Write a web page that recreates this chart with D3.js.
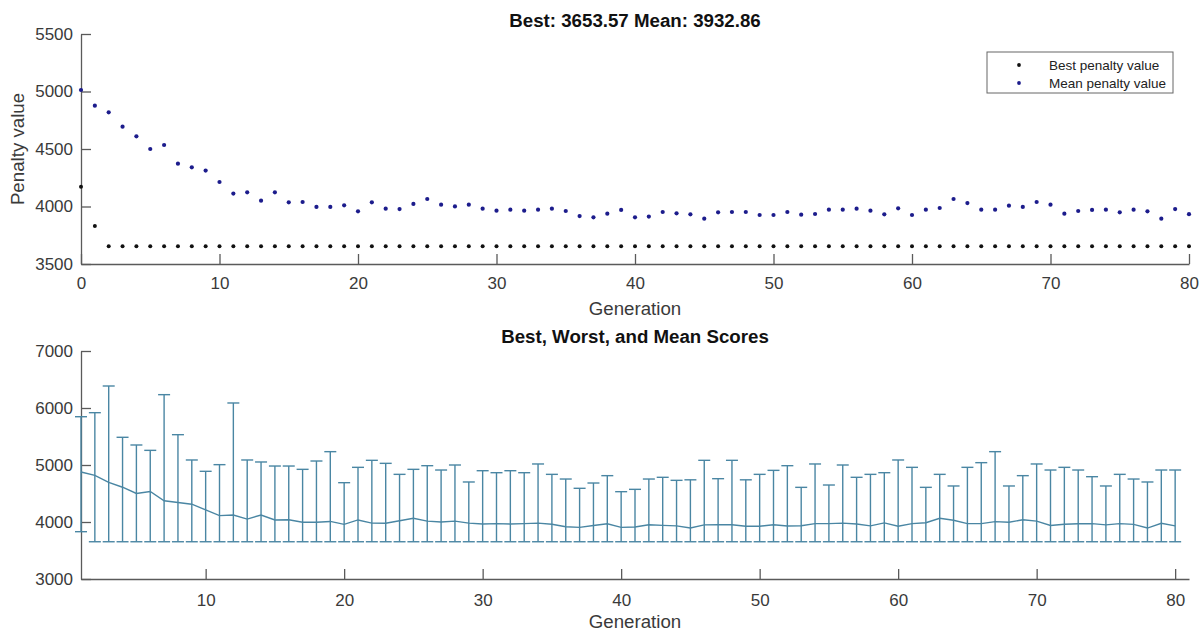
<!DOCTYPE html>
<html>
<head>
<meta charset="utf-8">
<title>GA penalty</title>
<script src="https://cdn.jsdelivr.net/npm/d3@7"></script>
<style>
  body { margin: 0; background: #fff; }
  svg { font-family: "Liberation Sans", Arial, sans-serif; }
</style>
</head>
<body>
<script>
// generation 0..80 (top plot)
var bestPenalty = [4172, 3830, 3653.57, 3653.57, 3653.57, 3653.57, 3653.57, 3653.57, 3653.57, 3653.57,
  3653.57, 3653.57, 3653.57, 3653.57, 3653.57, 3653.57, 3653.57, 3653.57, 3653.57, 3653.57,
  3653.57, 3653.57, 3653.57, 3653.57, 3653.57, 3653.57, 3653.57, 3653.57, 3653.57, 3653.57,
  3653.57, 3653.57, 3653.57, 3653.57, 3653.57, 3653.57, 3653.57, 3653.57, 3653.57, 3653.57,
  3653.57, 3653.57, 3653.57, 3653.57, 3653.57, 3653.57, 3653.57, 3653.57, 3653.57, 3653.57,
  3653.57, 3653.57, 3653.57, 3653.57, 3653.57, 3653.57, 3653.57, 3653.57, 3653.57, 3653.57,
  3653.57, 3653.57, 3653.57, 3653.57, 3653.57, 3653.57, 3653.57, 3653.57, 3653.57, 3653.57,
  3653.57, 3653.57, 3653.57, 3653.57, 3653.57, 3653.57, 3653.57, 3653.57, 3653.57, 3653.57,
  3653.57];
var meanPenalty = [5013, 4877, 4819, 4694, 4610, 4500, 4535, 4372, 4341, 4312,
  4213, 4112, 4123, 4051, 4123, 4036, 4039, 3996, 3996, 4010,
  3958, 4036, 3981, 3978, 4022, 4065, 4016, 4001, 4016, 3981,
  3964, 3972, 3964, 3972, 3981, 3961, 3917, 3906, 3938, 3970,
  3906, 3912, 3952, 3941, 3932, 3894, 3949, 3952, 3952, 3926,
  3926, 3952, 3929, 3935, 3972, 3972, 3981, 3964, 3932, 3984,
  3926, 3972, 3987, 4065, 4030, 3972, 3972, 4007, 3996, 4039,
  4016, 3938, 3961, 3970, 3972, 3949, 3972, 3958, 3894, 3978,
  3932.86];
// generation 1..80 (bottom plot), worst score
var worstScore = [5847, 5918, 6386, 5486, 5351, 5257, 6234, 5532, 5088, 4889,
  5006, 6088, 5088, 5053, 4982, 4982, 4924, 5070, 5234, 4690,
  4959, 5082, 5029, 4836, 4924, 4988, 4912, 5000, 4702, 4900,
  4865, 4900, 4865, 5018, 4836, 4754, 4591, 4684, 4813, 4532,
  4573, 4754, 4784, 4731, 4740, 5082, 4760, 5082, 4740, 4836,
  4906, 4988, 4608, 5018, 4649, 5000, 4784, 4836, 4865, 5088,
  4959, 4608, 4836, 4632, 4959, 5041, 5234, 4632, 4813, 5018,
  4912, 4959, 4912, 4795, 4632, 4836, 4754, 4702, 4912, 4912];

var topYTicks = [3500, 4000, 4500, 5000, 5500];
var topXTicks = [0, 10, 20, 30, 40, 50, 60, 70, 80];
var botYTicks = [3000, 4000, 5000, 6000, 7000];
var botXTicks = [10, 20, 30, 40, 50, 60, 70, 80];

var axisColor = "#5a5a5a", textColor = "#3a3a3a";
var barColor = "#4a86a3";
var fmt = d3.format("d");

var svg = d3.select("body").append("svg")
  .attr("width", 1203).attr("height", 634);

function styleAxis(g) {
  g.selectAll("path, line").attr("stroke", axisColor).attr("stroke-width", 1.3);
  g.selectAll("text").attr("fill", textColor).style("font-size", "17px");
}

// ---------- top plot ----------
var x1 = d3.scaleLinear().domain([0, 80]).range([81, 1189]);
var y1 = d3.scaleLinear().domain([3500, 5500]).range([264, 34]);

svg.append("g").attr("transform", "translate(0,264)")
  .call(d3.axisBottom(x1).tickValues(topXTicks).tickFormat(fmt).tickSizeInner(-10).tickSizeOuter(0).tickPadding(13))
  .call(styleAxis);
svg.append("g").attr("transform", "translate(81,0)")
  .call(d3.axisLeft(y1).tickValues(topYTicks).tickFormat(fmt).tickSizeInner(-10).tickSizeOuter(0).tickPadding(8))
  .call(styleAxis);

svg.append("g").selectAll("circle").data(bestPenalty).join("circle")
  .attr("cx", (d, i) => x1(i)).attr("cy", d => y1(d)).attr("r", 2).attr("fill", "#111");
svg.append("g").selectAll("circle").data(meanPenalty).join("circle")
  .attr("cx", (d, i) => x1(i)).attr("cy", d => y1(d)).attr("r", 2.1).attr("fill", "#1c1c8c");

svg.append("text").attr("x", 635).attr("y", 27).attr("text-anchor", "middle")
  .style("font-size", "18.7px").style("font-weight", "bold").attr("fill", "#111")
  .text("Best: 3653.57 Mean: 3932.86");
svg.append("text").attr("x", 635).attr("y", 315).attr("text-anchor", "middle")
  .style("font-size", "18.7px").attr("fill", textColor).text("Generation");
svg.append("text").attr("transform", "translate(24,149) rotate(-90)").attr("text-anchor", "middle")
  .style("font-size", "18.7px").attr("fill", textColor).text("Penalty value");

// legend
var leg = svg.append("g");
leg.append("rect").attr("x", 987).attr("y", 52).attr("width", 186).attr("height", 41)
  .attr("fill", "#fff").attr("stroke", "#666").attr("stroke-width", 1);
var legItems = [["Best penalty value", "#111"], ["Mean penalty value", "#1c1c8c"]];
legItems.forEach(function (it, i) {
  var yy = 65 + i * 18;
  leg.append("circle").attr("cx", 1019).attr("cy", yy).attr("r", 1.9).attr("fill", it[1]);
  leg.append("text").attr("x", 1049).attr("y", yy).attr("dy", "0.35em")
    .style("font-size", "13.5px").attr("fill", "#222").text(it[0]);
});

// ---------- bottom plot ----------
var x2 = d3.scaleLinear().domain([1, 81]).range([81, 1189]);
var y2 = d3.scaleLinear().domain([3000, 7000]).range([579, 351]);

svg.append("g").attr("transform", "translate(0,579)")
  .call(d3.axisBottom(x2).tickValues(botXTicks).tickFormat(fmt).tickSizeInner(-10).tickSizeOuter(0).tickPadding(15))
  .call(styleAxis);
svg.append("g").attr("transform", "translate(81,0)")
  .call(d3.axisLeft(y2).tickValues(botYTicks).tickFormat(fmt).tickSizeInner(-10).tickSizeOuter(0).tickPadding(8))
  .call(styleAxis);

var bars = worstScore.map(function (w, i) {
  return { gen: i + 1, worst: w, best: bestPenalty[i + 1], mean: meanPenalty[i + 1] };
});
var eb = svg.append("g").attr("stroke", barColor).attr("stroke-width", 1.4);
eb.selectAll("line.v").data(bars).join("line").attr("class", "v")
  .attr("x1", d => x2(d.gen)).attr("x2", d => x2(d.gen))
  .attr("y1", d => y2(d.best)).attr("y2", d => y2(d.worst));
eb.selectAll("line.t").data(bars).join("line").attr("class", "t")
  .attr("x1", d => x2(d.gen) - 6).attr("x2", d => x2(d.gen) + 6)
  .attr("y1", d => y2(d.worst)).attr("y2", d => y2(d.worst));
eb.selectAll("line.b").data(bars).join("line").attr("class", "b")
  .attr("x1", d => x2(d.gen) - 6).attr("x2", d => x2(d.gen) + 6)
  .attr("y1", d => y2(d.best)).attr("y2", d => y2(d.best));

svg.append("path").datum(bars)
  .attr("fill", "none").attr("stroke", barColor).attr("stroke-width", 1.4)
  .attr("d", d3.line().x(d => x2(d.gen)).y(d => y2(d.mean)));

svg.append("text").attr("x", 635).attr("y", 343).attr("text-anchor", "middle")
  .style("font-size", "18.7px").style("font-weight", "bold").attr("fill", "#111")
  .text("Best, Worst, and Mean Scores");
svg.append("text").attr("x", 635).attr("y", 628).attr("text-anchor", "middle")
  .style("font-size", "18.7px").attr("fill", textColor).text("Generation");
</script>
</body>
</html>
